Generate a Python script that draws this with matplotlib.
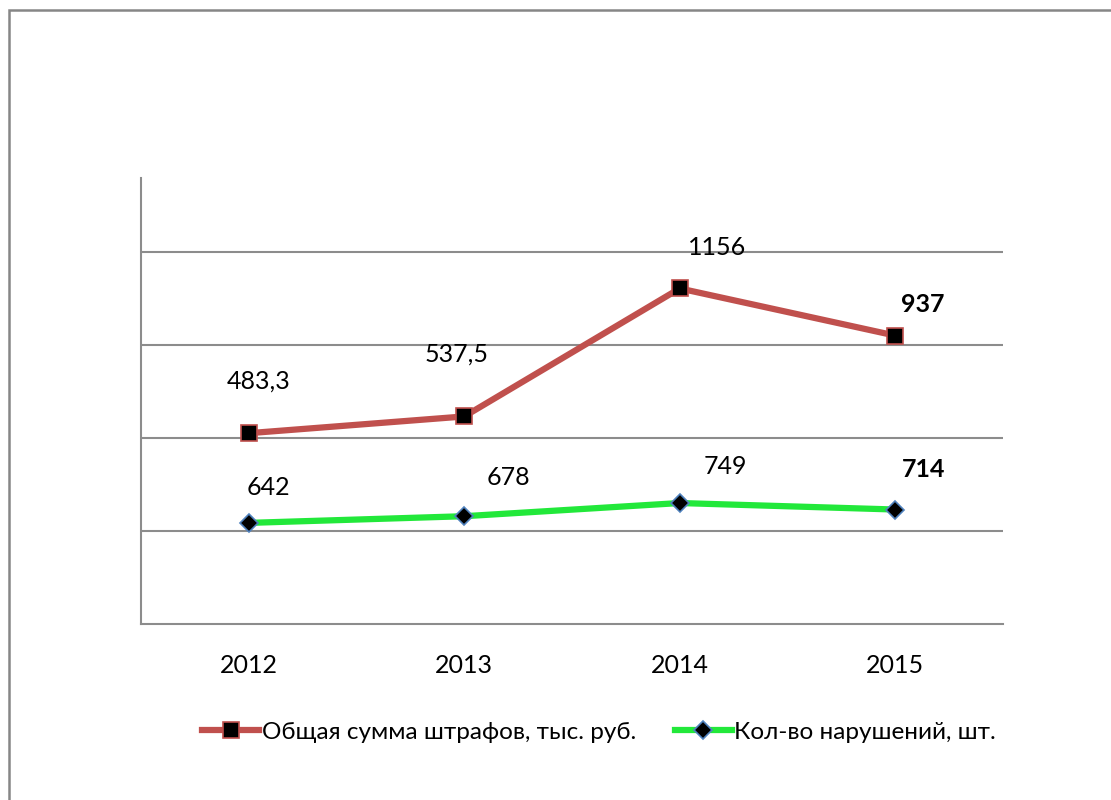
import matplotlib
matplotlib.use('Agg')
import matplotlib.pyplot as plt
from matplotlib.patches import Rectangle
import numpy as np

plt.rcParams['font.family'] = ['Lato', 'Noto Sans', 'DejaVu Sans']

# data
years = ['2012', '2013', '2014', '2015']
fines = [483.3, 537.5, 1156, 937]          # общая сумма штрафов, тыс. руб.
violations = [642, 678, 749, 714]          # кол-во нарушений, шт.
fine_labels = ['483,3', '537,5', '1156', '937']
viol_labels = ['642', '678', '749', '714']
bold_last = [False, False, False, True]

# label offsets in pixels (moved by hand in the original)
fine_offsets = [(10, 52), (-8, 62), (37, 41), (28, 31)]
viol_offsets = [(20, 35), (44, 39), (46, 37), (28, 40)]

red = '#C0504D'
green = '#22E83A'
grid_col = '#8C8C8C'
fs = 18

# the original is a stacked line chart
stacked = np.array(violations) + np.array(fines)
x = np.arange(len(years))

fig = plt.figure(figsize=(11.11, 8), dpi=100)
ax = fig.add_axes([141/1111, 1-623.5/800, (1003-141)/1111, (623.5-178)/800])

ax.plot(x, stacked, color=red, lw=4.5, marker='s', markersize=11,
        markerfacecolor='black', markeredgecolor=red, markeredgewidth=1.2,
        label='Общая сумма штрафов, тыс. руб.', zorder=4)
ax.plot(x, violations, color=green, lw=4.5, marker='D', markersize=9,
        markerfacecolor='black', markeredgecolor='#4F81BD', markeredgewidth=1.2,
        label='Кол-во нарушений, шт.', zorder=4)

for i in range(len(years)):
    w = 'bold' if bold_last[i] else 'normal'
    ax.annotate(fine_labels[i], (x[i], stacked[i]), xytext=fine_offsets[i],
                textcoords='offset pixels', ha='center', va='center',
                fontsize=fs, fontweight=w)
    ax.annotate(viol_labels[i], (x[i], violations[i]), xytext=viol_offsets[i],
                textcoords='offset pixels', ha='center', va='center',
                fontsize=fs, fontweight=w)

ax.set_xlim(-0.5, 3.5)
ax.set_ylim(100, 2500)
ax.set_yticks([600, 1100, 1600, 2100])
ax.set_yticklabels([])
ax.yaxis.grid(True, color=grid_col, lw=1.5)
ax.set_axisbelow(True)
ax.tick_params(axis='y', length=0)
ax.set_xticks(x)
ax.set_xticklabels(years, fontsize=fs)
ax.tick_params(axis='x', length=0, pad=22)
for s in ['top', 'right']:
    ax.spines[s].set_visible(False)
for s in ['left', 'bottom']:
    ax.spines[s].set_color(grid_col)
    ax.spines[s].set_linewidth(1.5)

ax.legend(loc='center', bbox_to_anchor=(599/1111, (800-732)/800), bbox_transform=fig.transFigure,
          ncol=2, frameon=False, fontsize=17.5, handlelength=2.35, handletextpad=0.1,
          columnspacing=1.6)

# outer chart border
fig.patches.append(Rectangle((9/1111, -0.1), 1.2, 1.1 - 10/800, transform=fig.transFigure,
                             fill=False, edgecolor='#868686', lw=1.8))

fig.savefig('out.png', dpi=100)
